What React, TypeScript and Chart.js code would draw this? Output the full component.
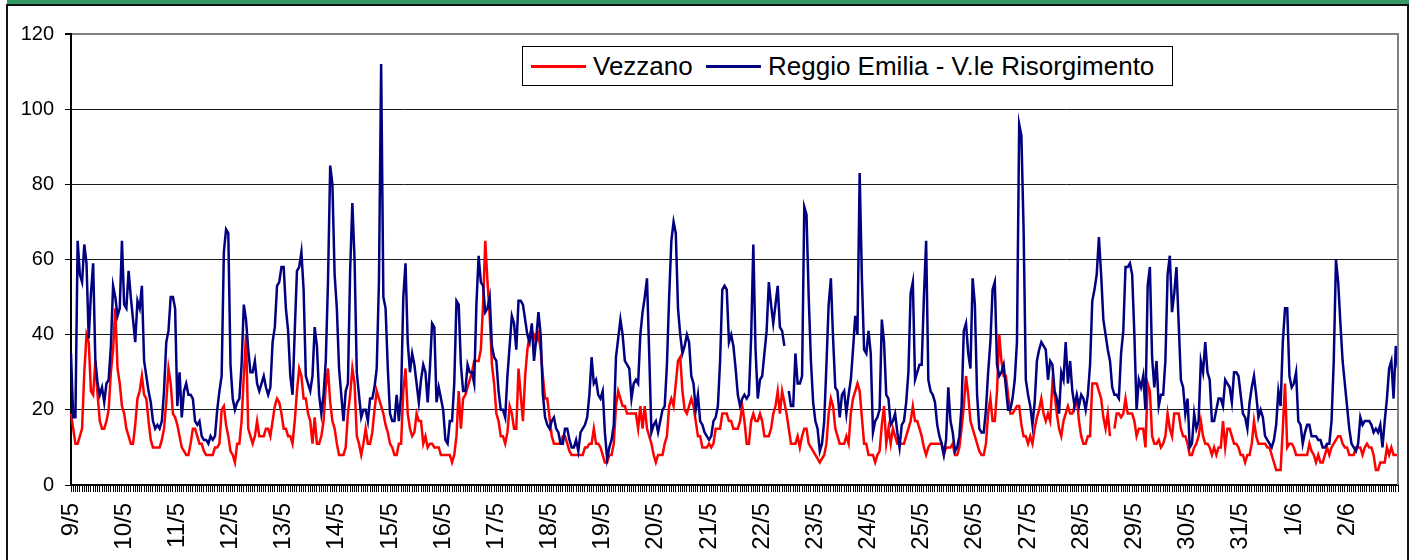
import React, { useEffect, useRef } from 'react';
import { Chart, registerables } from 'chart.js';

Chart.register(...registerables);

// Day labels (one every 24 hourly categories)
const dayLabels = [
  '9/5', '10/5', '11/5', '12/5', '13/5', '14/5', '15/5', '16/5', '17/5', '18/5',
  '19/5', '20/5', '21/5', '22/5', '23/5', '24/5', '25/5', '26/5', '27/5', '28/5',
  '29/5', '30/5', '31/5', '1/6', '2/6',
];

const yTicks = [0, 20, 40, 60, 80, 100, 120];

// Vezzano – hourly values, one line per day
const vezzano: (number | null)[] = [
  19, 15, 11, 11, 13, 15, 30, 40, 38, 25, 24, 33, 24, 17, 15, 15, 17, 20, 30, 36, 47, 31, 27, 21,
  19, 15, 13, 11, 11, 16, 23, 25, 29, 24, 23, 17, 12, 10, 10, 10, 10, 12, 15, 22, 31, 27, 19, 18,
  16, 13, 10, 9, 8, 8, 11, 15, 15, 13, 11, 11, 9, 8, 8, 8, 8, 10, 10, 11, 20, 21, 16, 13,
  9, 8, 6, 11, 11, 17, 29, 40, 15, 13, 11, 13, 17, 13, 13, 13, 15, 15, 13, 17, 21, 23, 22, 19,
  15, 15, 13, 13, 11, 17, 25, 31, 29, 23, 23, 19, 17, 11, 18, 11, 11, 13, 17, 26, 31, 22, 17, 15,
  11, 8, 8, 8, 10, 19, 24, 31, 27, 13, 11, 8, 11, 15, 11, 11, 14, 20, 25, 23, 21, 19, 16, 14,
  11, 10, 8, 8, 11, 11, 25, 31, 19, 15, 13, 14, 19, 17, 17, 11, 13, 10, 11, 11, 10, 10, 10, 8,
  8, 8, 8, 8, 6, 8, 13, 25, 15, 23, 24, 26, 28, 30, 33, 33, 33, 36, 48, 65, 54, 45, 32, 27,
  19, 17, 13, 13, 11, 14, 21, 19, 15, 15, 31, 24, 17, 29, 36, 40, 41, 40, 38, 40, 36, 29, 23, 23,
  18, 13, 11, 11, 11, 11, 13, 13, 11, 9, 8, 8, 8, 8, 8, 8, 10, 10, 11, 11, 15, 11, 11, 10,
  8, 6, 6, 8, 8, 11, 21, 25, 23, 21, 21, 19, 19, 19, 19, 19, 15, 21, 15, 21, 15, 13, 11, 8,
  6, 8, 8, 8, 11, 13, 21, 23, 21, 27, 33, 34, 25, 20, 19, 21, 23, 21, 17, 13, 13, 10, 10, 10,
  11, 10, 11, 15, 15, 15, 19, 19, 19, 17, 17, 15, 15, 15, 17, 21, 17, 11, 11, 17, 19, 17, 17, 19,
  17, 13, 13, 13, 15, 19, 21, 25, 19, 25, 22, 19, 15, 11, 11, 11, 13, 10, 13, 15, 15, 11, 10, 9,
  8, 7, 6, 7, 8, 11, 19, 23, 21, 15, 13, 11, 11, 11, 13, 11, 19, 23, 25, 27, 25, 18, 11, 11,
  8, 8, 8, 6, 8, 9, 16, 21, 11, 15, 11, 15, 13, 11, 11, 11, 11, 13, 15, 17, 21, 17, 17, 15,
  13, 10, 8, 10, 11, 11, 11, 11, 11, 11, 8, 10, 10, 10, 11, 8, 8, 10, 15, 21, 29, 24, 17, 15,
  13, 11, 9, 8, 8, 11, 19, 23, 17, 17, 25, 40, 33, 29, 29, 24, 19, 19, 20, 21, 21, 16, 13, 13,
  11, 13, 11, 15, 18, 20, 23, 19, 17, 19, 17, 27, 24, 19, 15, 13, 17, 19, 21, 19, 19, 21, 23, 17,
  13, 11, 11, 13, 13, 27, 27, 27, 25, 23, 18, 15, 19, 13, null, 15, 19, 19, 18, 19, 23, 19, 19, 19,
  17, 13, 15, 15, 15, 10, 27, 25, 13, 11, 11, 12, 10, 11, 13, 19, 15, 13, 19, 19, 19, 15, 13, 13,
  11, 8, 8, 10, 11, 13, 17, 13, 11, 11, 10, 8, 10, 8, 10, 10, 17, 10, 15, 15, 13, 11, 11, 10,
  8, 8, 6, 8, 8, 11, 17, 13, 11, 11, 11, 11, 10, 10, 8, 6, 4, 4, 4, 15, 27, 10, 11, 11,
  10, 8, 8, 8, 8, 8, 8, 11, 9, 8, 6, 8, 6, 6, 8, 10, 8, 10, 11, 12, 13, 13, 11, 10,
  10, 8, 8, 8, 10, 10, 10, 8, 10, 11, 10, 10, 8, 4, 4, 6, 6, 6, 10, 8, 10, 8, 8, 8,
];

// Reggio Emilia - V.le Risorgimento – hourly values, one line per day
const reggio: (number | null)[] = [
  35, 18, 18, 65, 56, 54, 64, 59, 39, 51, 59, 33, 27, 24, 26, 22, 27, 28, 37, 53, 50, 45, 47, 65,
  48, 47, 57, 50, 44, 38, 49, 47, 53, 33, 29, 25, 22, 17, 15, 16, 15, 17, 25, 38, 41, 50, 50, 47,
  21, 30, 18, 25, 27, 24, 24, 23, 17, 16, 17, 13, 12, 12, 11, 13, 12, 13, 20, 25, 29, 62, 68, 67,
  32, 23, 20, 22, 23, 32, 48, 44, 36, 30, 30, 33, 27, 25, 27, 29, 26, 24, 26, 38, 42, 53, 54, 58,
  58, 47, 41, 29, 24, 41, 57, 58, 62, 52, 29, 27, 25, 29, 42, 37, 24, 19, 24, 33, 54, 85, 80, 56,
  47, 31, 24, 17, 25, 27, 57, 75, 60, 30, 24, 18, 20, 20, 17, 23, 23, 26, 31, 54, 112, 50, 47, 31,
  19, 17, 17, 24, 17, 24, 50, 59, 38, 30, 35, 32, 27, 22, 28, 32, 30, 22, 31, 43, 42, 22, 26, 23,
  20, 12, 11, 17, 17, 27, 49, 48, 32, 25, 25, 32, 30, 30, 27, 48, 61, 54, 53, 46, 47, 50, 37, 34,
  33, 25, 20, 20, 18, 29, 37, 45, 43, 36, 49, 49, 48, 44, 40, 38, 43, 33, 39, 46, 40, 24, 18, 16,
  15, 17, 18, 15, 14, 11, 11, 15, 15, 12, 10, 10, 12, 9, 14, 15, 16, 18, 24, 34, 27, 28, 24, 23,
  25, 14, 7, 10, 12, 16, 34, 39, 44, 40, 33, 32, 31, 23, 27, 28, 27, 40, 46, 50, 55, 35, 14, 16,
  17, 14, 17, 20, 21, 32, 50, 65, 70, 67, 47, 40, 35, 37, 40, 38, 29, 27, 20, 24, 17, 16, 14, 13,
  12, 13, 17, 18, 21, 33, 52, 53, 52, 38, 40, 37, 31, 24, 21, 23, 24, 23, 24, 39, 64, 36, 23, 28,
  29, 35, 41, 54, 48, 43, 48, 53, 42, 41, 37, null, 25, 21, 21, 35, 27, 27, 29, 74, 72, 50, 33, 22,
  17, 15, 9, 11, 17, 32, 48, 55, 39, 26, 25, 18, 24, 25, 19, 24, 28, 36, 45, 40, 83, 55, 36, 35,
  41, 35, 14, 17, 18, 20, 44, 38, 24, 23, 16, 17, 19, 14, 10, 16, 17, 22, 30, 51, 54, 28, 30, 32,
  32, 50, 65, 28, 25, 24, 22, 16, 13, 11, 8, 12, 26, 17, 14, 9, 10, 13, 21, 41, 43, 35, 31, 55,
  48, 24, 15, 14, 14, 20, 30, 38, 52, 54, 32, 29, 30, 32, 26, 20, 20, 23, 28, 38, 96, 93, 68, 28,
  24, 21, 16, 22, 33, 36, 38, 37, 36, 28, 33, 32, 25, 23, 19, 30, 28, 38, 27, 33, 25, 21, 24, 21,
  24, 23, 20, 24, 32, 49, 52, 56, 66, 56, 44, 40, 36, 33, 26, 24, 24, 23, 35, 41, 58, 58, 59, 56,
  40, 20, 28, 26, 29, 20, 53, 58, 34, 26, 33, 21, 24, 24, 33, 56, 61, 46, 51, 58, 43, 28, 26, 19,
  23, 10, 11, 19, 15, 17, 33, 30, 38, 30, 28, 17, 17, 20, 23, 23, 21, 28, 27, 26, 22, 30, 30, 29,
  24, 19, 18, 15, 22, 26, 29, 24, 18, 20, 18, 13, 12, 11, 10, 12, 16, 25, 21, 38, 47, 47, 29, 26,
  27, 30, 17, 16, 11, 14, 16, 16, 13, 13, 13, 12, 12, 10, 10, 11, 11, 17, 33, 60, 54, 43, 33, 27,
  21, 15, 11, 10, 9, 11, 18, 16, 17, 17, 17, 16, 14, 15, 14, 16, 10, 17, 23, 31, 33, 23, 37, 31,
];

const hourLabels = vezzano.map((_, i) => `${dayLabels[Math.floor(i / 24)]} ${i % 24}:00`);

const FONT = '"Liberation Sans", Arial, Helvetica, sans-serif';

const plotFrame = {
  id: 'plotFrame',
  afterDatasetsDraw(chart: any) {
    const { ctx, chartArea: a } = chart;
    ctx.save();
    ctx.strokeStyle = '#808080';
    ctx.lineWidth = 2;
    ctx.beginPath();
    ctx.moveTo(a.right, a.top - 1);
    ctx.lineTo(a.right, a.bottom);
    ctx.stroke();
    ctx.restore();
  },
};

export default function App() {
  const canvasRef = useRef<HTMLCanvasElement | null>(null);

  useEffect(() => {
    if (!canvasRef.current) return;
    Chart.defaults.font.family = FONT;
    const chart = new Chart(canvasRef.current, {
      type: 'line',
      data: {
        labels: hourLabels,
        datasets: [
          {
            label: 'Vezzano',
            data: vezzano,
            borderColor: '#FF0000',
            backgroundColor: '#FF0000',
            borderWidth: 2.5,
            pointRadius: 0,
            tension: 0,
            spanGaps: false,
            order: 1,
          },
          {
            label: 'Reggio Emilia - V.le Risorgimento',
            data: reggio,
            borderColor: '#000080',
            backgroundColor: '#000080',
            borderWidth: 2.5,
            pointRadius: 0,
            tension: 0,
            spanGaps: false,
            order: 0,
          },
        ],
      },
      options: {
        animation: false,
        responsive: false,
        maintainAspectRatio: false,
        layout: { padding: { left: 0, top: 34, right: 13, bottom: 0 } },
        plugins: {
          legend: { display: false },
          tooltip: { enabled: false },
          title: { display: false },
        },
        scales: {
          x: {
            type: 'category',
            offset: false,
            grid: {
              display: true,
              drawOnChartArea: false,
              drawTicks: true,
              tickLength: 7,
              color: '#000',
              lineWidth: 1,
            },
            border: { display: true, color: '#000', width: 2 },
            ticks: {
              autoSkip: false,
              minRotation: 90,
              maxRotation: 90,
              padding: 11,
              color: '#000',
              font: { size: 24, family: FONT },
              callback: (_v: any, i: number) => (i % 24 === 0 ? dayLabels[i / 24] : ''),
            },
            afterFit: (s: any) => {
              s.height = 75;
              s.paddingLeft = 0;
              s.paddingRight = 0;
            },
          },
          y: {
            min: 0,
            max: 120,
            afterBuildTicks: (s: any) => {
              s.ticks = yTicks.map((v) => ({ value: v }));
            },
            ticks: {
              stepSize: 20,
              padding: 11,
              color: '#000',
              font: { size: 20, family: FONT },
            },
            grid: {
              color: (c: any) => (c.tick && c.tick.value === 120 ? '#808080' : '#1a1a1a'),
              lineWidth: (c: any) => (c.tick && c.tick.value === 120 ? 2 : 1),
              tickLength: 6,
              tickColor: '#000',
              drawTicks: true,
            },
            border: { display: true, color: '#000', width: 2 },
            afterFit: (s: any) => {
              s.width = 71;
            },
          },
        },
      },
      plugins: [plotFrame],
    });
    return () => chart.destroy();
  }, []);

  return (
    <div
      style={{
        position: 'absolute',
        left: 0,
        top: 0,
        width: 1411,
        height: 560,
        background: '#fff',
        overflow: 'hidden',
        fontFamily: FONT,
      }}
    >
      <div style={{ position: 'absolute', left: 7, top: 0, width: 1402, height: 4, background: '#339966' }} />
      <div
        style={{
          position: 'absolute',
          left: 6,
          top: 4,
          width: 1403,
          height: 600,
          border: '2px solid #111',
          boxSizing: 'border-box',
        }}
      />
      <canvas
        ref={canvasRef}
        width={1411}
        height={560}
        style={{ position: 'absolute', left: 0, top: 0, width: 1411, height: 560 }}
      />
      <div
        style={{
          position: 'absolute',
          left: 522,
          top: 46,
          width: 651,
          height: 40,
          border: '1px solid #000',
          boxSizing: 'border-box',
          background: '#fff',
          color: '#000',
          fontSize: 26,
        }}
      >
        <div style={{ position: 'absolute', left: 8, top: 18, width: 55, height: 3, background: '#FF0000' }} />
        <span style={{ position: 'absolute', left: 70, top: 0, lineHeight: '38px', whiteSpace: 'nowrap' }}>
          Vezzano
        </span>
        <div style={{ position: 'absolute', left: 183, top: 18, width: 55, height: 3, background: '#000080' }} />
        <span style={{ position: 'absolute', left: 245, top: 0, lineHeight: '38px', whiteSpace: 'nowrap' }}>
          Reggio Emilia - V.le Risorgimento
        </span>
      </div>
    </div>
  );
}
